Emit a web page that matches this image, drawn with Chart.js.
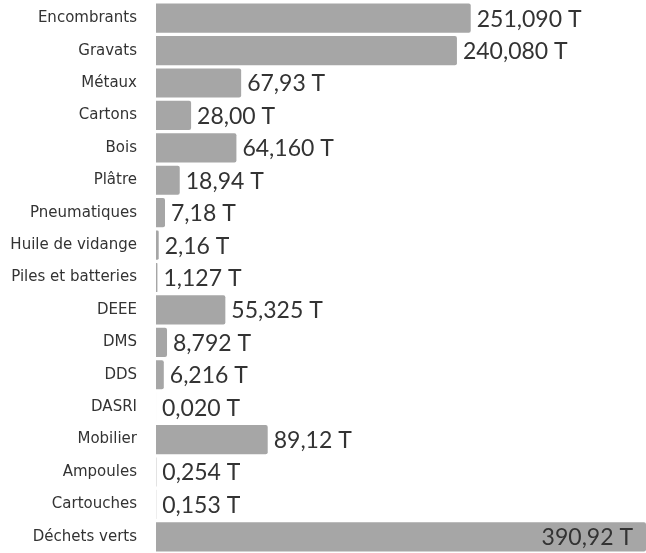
<!DOCTYPE html>
<html>
<head>
<meta charset="utf-8">
<script src="https://cdn.jsdelivr.net/npm/chart.js@4/dist/chart.umd.min.js"></script>
<style>
  html, body { margin: 0; padding: 0; background: #fff; }
  #wrap { width: 646px; height: 553px; }
</style>
</head>
<body>
<div id="wrap"><canvas id="wasteChart"></canvas></div>
<script>
// categories and tonnages
const categories = [
    "Encombrants", "Gravats", "Métaux", "Cartons", "Bois", "Plâtre",
    "Pneumatiques", "Huile de vidange", "Piles et batteries", "DEEE",
    "DMS", "DDS", "DASRI", "Mobilier", "Ampoules", "Cartouches", "Déchets verts"
];
const tonnes = [
    251.090, 240.080, 67.93, 28.00, 64.160, 18.94,
    7.18, 2.16, 1.127, 55.325,
    8.792, 6.216, 0.020, 89.12, 0.254, 0.153, 390.92
];
// number of decimals shown in each label
const decimals = [3, 3, 2, 2, 3, 2, 2, 2, 3, 3, 3, 3, 3, 2, 3, 3, 2];

const LABEL_FONT = "'DejaVu Sans', sans-serif";
const VALUE_FONT = "Lato, 'DejaVu Sans', sans-serif";

function fmt(i) {
    return tonnes[i].toFixed(decimals[i]).replace(".", ",") + " T";
}

// draws the value at the end of each bar (inside if it does not fit)
const valueLabels = {
    id: "valueLabels",
    afterDatasetsDraw(chart) {
        const ctx = chart.ctx;
        const area = chart.chartArea;
        const meta = chart.getDatasetMeta(0);
        ctx.save();
        ctx.font = "23px " + VALUE_FONT;
        ctx.fillStyle = "#333333";
        ctx.textBaseline = "middle";
        meta.data.forEach((bar, i) => {
            const txt = fmt(i);
            const w = ctx.measureText(txt).width;
            if (bar.x + 6 + w > area.right) {
                ctx.textAlign = "right";
                ctx.fillText(txt, bar.x - 13, bar.y + 1);
            } else {
                ctx.textAlign = "left";
                ctx.fillText(txt, bar.x + 6, bar.y + 1);
            }
        });
        ctx.restore();
    }
};

new Chart(document.getElementById("wasteChart"), {
    type: "bar",
    data: {
        labels: categories,
        datasets: [{
            data: tonnes,
            backgroundColor: "#a6a6a6",
            borderRadius: 2,
            borderSkipped: "start",
            barPercentage: 1,
            categoryPercentage: 0.9
        }]
    },
    options: {
        indexAxis: "y",
        responsive: true,
        maintainAspectRatio: false,
        animation: false,
        layout: { padding: { top: 2, bottom: 0, left: 0, right: 0 } },
        plugins: {
            legend: { display: false },
            tooltip: { enabled: false }
        },
        scales: {
            x: {
                display: false,
                min: 0,
                max: Math.max(...tonnes)
            },
            y: {
                grid: { display: false },
                border: { display: false },
                ticks: {
                    color: "#333333",
                    padding: 11,
                    font: { family: LABEL_FONT, size: 15 }
                },
                afterFit(scale) {
                    scale.width = 156;
                    scale.paddingTop = 0;
                    scale.paddingBottom = 0;
                }
            }
        }
    },
    plugins: [valueLabels]
});
</script>
</body>
</html>
